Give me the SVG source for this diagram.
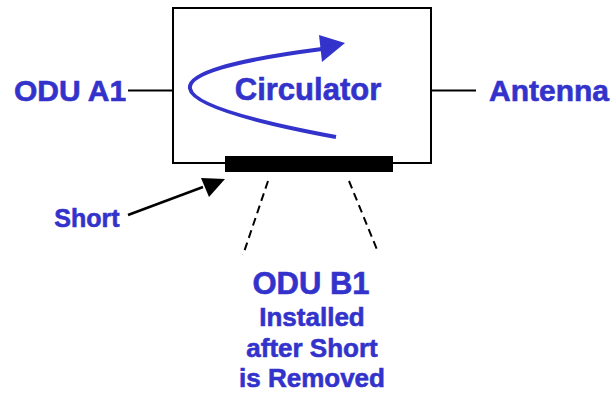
<svg xmlns="http://www.w3.org/2000/svg" width="616" height="394" viewBox="0 0 616 394">
<defs>
<style>
.lbl{font-family:"Liberation Sans",Arial,sans-serif;font-weight:bold;fill:#3333cc;stroke:#3333cc;stroke-width:0.6;text-anchor:middle}
.ln{stroke:#000;stroke-width:2;fill:none}
.dash{stroke:#000;stroke-width:2;fill:none;stroke-dasharray:8 5}
</style>
</defs>
<rect width="616" height="394" fill="#fff"/>
<g id="circulator">
<rect x="173" y="8" width="258" height="155" fill="#fff" stroke="#000" stroke-width="2"/>
<path d="M336,137 Q51,84 322,49" fill="none" stroke="#3333cc" stroke-width="4"/>
<polygon points="345,43 319,35 322,62" fill="#3333cc"/>
<text class="lbl" x="308" y="100" font-size="31">Circulator</text>
</g>
<g id="short-bar">
<rect x="225" y="156" width="168" height="16" fill="#000"/>
</g>
<g id="odu-a1"><text class="lbl" x="70" y="101" font-size="30">ODU A1</text></g>
<g id="antenna"><text class="lbl" x="549" y="101" font-size="30">Antenna</text></g>
<g id="short"><text class="lbl" x="87" y="227" font-size="25">Short</text></g>
<g id="odu-b1">
<text class="lbl" x="311" y="294" font-size="31">ODU B1</text>
<text class="lbl" x="312" y="326" font-size="26">Installed</text>
<text class="lbl" x="312" y="357" font-size="26">after Short</text>
<text class="lbl" x="312" y="387" font-size="26">is Removed</text>
</g>
<g id="connectors">
<line class="ln" x1="128" y1="90.5" x2="173" y2="90.5"/>
<line class="ln" x1="431" y1="90.5" x2="476" y2="90.5"/>
<line x1="128" y1="215" x2="203" y2="187" stroke="#000" stroke-width="2.5"/>
<polygon points="225,179 201,178 209,197" fill="#000"/>
<line class="dash" x1="268" y1="181" x2="243" y2="255"/>
<line class="dash" x1="349" y1="181" x2="378" y2="252"/>
</g>
</svg>
